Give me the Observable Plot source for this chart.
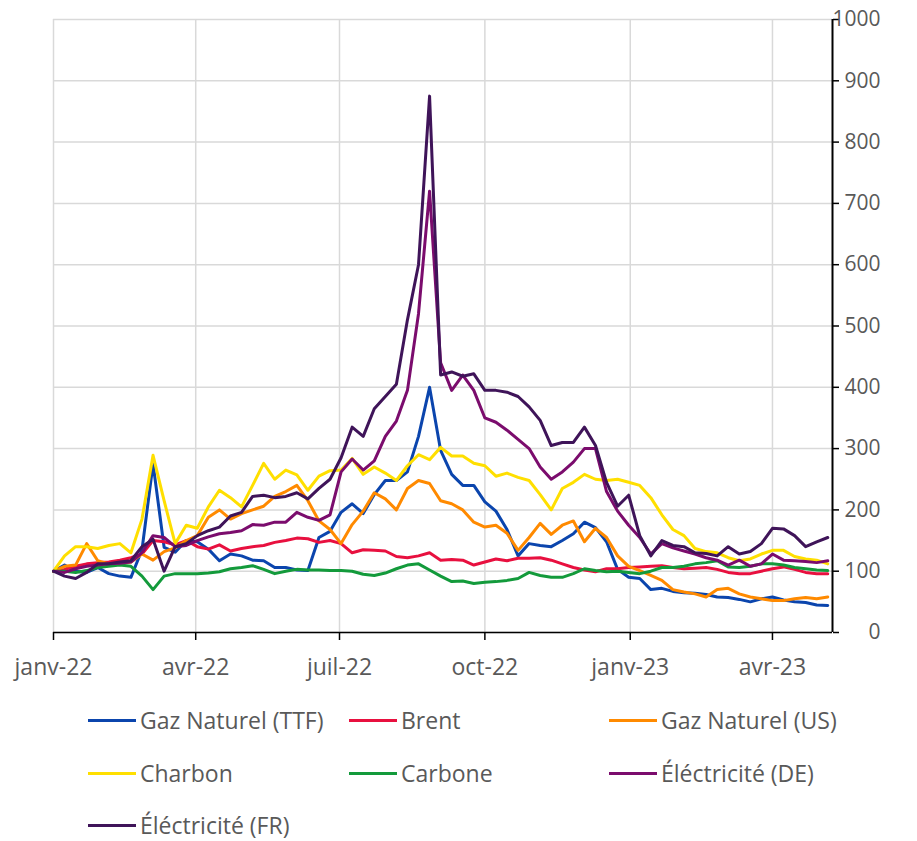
<!DOCTYPE html>
<html>
<head>
<meta charset="utf-8">
<script src="https://cdn.jsdelivr.net/npm/d3@7"></script>
<script src="https://cdn.jsdelivr.net/npm/@observablehq/plot@0.6"></script>
<style>
  html, body { margin: 0; padding: 0; background: #fff; }
  #wrap { position: relative; width: 917px; height: 841px; font-family: "Open Sans", sans-serif; overflow: hidden; }
  #legend { position: absolute; left: 0; top: 690px; width: 917px; }
  .item { position: absolute; display: flex; align-items: center; height: 26px; line-height: 26px; color: #595959; font-size: 23px; white-space: nowrap; }
  .sw { width: 48px; height: 3px; margin-right: 4px; }
</style>
</head>
<body>
<div id="wrap">
  <div id="chart"></div>
  <div id="legend"></div>
</div>
<script>
const dates = ["2022-01-01","2022-01-08","2022-01-15","2022-01-22","2022-01-29","2022-02-05","2022-02-12","2022-02-19","2022-02-26","2022-03-05","2022-03-12","2022-03-19","2022-03-26","2022-04-02","2022-04-09","2022-04-16","2022-04-23","2022-04-30","2022-05-07","2022-05-14","2022-05-21","2022-05-28","2022-06-04","2022-06-11","2022-06-18","2022-06-25","2022-07-02","2022-07-09","2022-07-16","2022-07-23","2022-07-30","2022-08-06","2022-08-13","2022-08-20","2022-08-27","2022-09-03","2022-09-10","2022-09-17","2022-09-24","2022-10-01","2022-10-08","2022-10-15","2022-10-22","2022-10-29","2022-11-05","2022-11-12","2022-11-19","2022-11-26","2022-12-03","2022-12-10","2022-12-17","2022-12-24","2022-12-31","2023-01-07","2023-01-14","2023-01-21","2023-01-28","2023-02-04","2023-02-11","2023-02-18","2023-02-25","2023-03-04","2023-03-11","2023-03-18","2023-03-25","2023-04-01","2023-04-08","2023-04-15","2023-04-22","2023-04-29","2023-05-06"];

const gazTTF = [100,110,100,98,106,96,92,90,135,275,139,131,150,148,136,117,128,125,118,117,106,106,102,101,155,165,196,210,194,225,248,248,262,320,400,297,258,240,240,213,198,168,125,145,142,140,150,161,180,171,148,103,90,88,70,72,67,65,64,62,58,57,54,50,55,58,53,50,49,45,44];
const brent = [100,103,108,112,114,115,118,122,128,150,148,143,150,140,136,143,133,137,140,142,147,150,154,153,147,150,145,130,135,134,133,124,122,125,130,118,119,118,110,115,120,117,121,121,122,118,112,106,102,99,104,104,106,107,108,109,106,104,105,106,103,98,96,96,100,104,107,103,98,96,96];
const gazUS = [100,108,110,145,117,112,112,115,128,118,132,138,150,158,188,200,185,194,200,206,222,230,240,215,182,168,145,176,198,228,218,200,235,248,243,215,210,200,180,172,175,162,134,155,178,160,175,182,148,170,155,125,108,101,93,85,70,66,63,58,70,72,63,58,55,52,52,55,57,55,58];
const charbon = [100,125,140,140,137,142,145,130,185,289,215,145,175,170,205,232,220,205,240,276,250,265,257,232,255,264,265,284,258,270,260,248,272,290,282,302,288,288,276,272,255,260,253,248,225,200,235,245,258,250,248,250,245,240,220,192,168,158,137,132,130,122,117,120,128,134,134,124,120,118,112];
const carbone = [100,100,98,101,106,108,110,108,92,70,92,96,96,96,97,99,104,106,109,103,96,100,103,102,102,101,101,100,95,93,97,104,110,112,102,92,83,84,80,82,83,85,88,98,93,90,90,96,104,101,99,100,98,96,100,106,106,108,112,114,117,107,106,108,112,112,110,106,104,102,101];
const elecDE = [100,98,104,108,110,112,113,115,130,158,155,140,142,150,156,161,163,166,176,175,180,180,196,188,183,192,262,283,265,280,320,345,395,520,720,440,395,420,395,350,343,330,315,300,270,250,262,278,300,300,230,198,175,155,128,145,138,133,128,122,118,110,118,108,112,128,118,117,116,114,117];
const elecFR = [100,92,88,98,112,112,115,117,140,152,100,140,145,158,166,172,190,196,222,224,220,222,228,218,235,250,285,335,320,365,385,405,510,600,875,420,425,418,422,395,395,392,385,368,346,305,310,310,335,305,245,206,224,158,125,150,142,140,130,129,125,140,128,132,145,170,169,158,140,148,155];

const seriesNames = ["Gaz Naturel (TTF)","Brent","Gaz Naturel (US)","Charbon","Carbone","Éléctricité (DE)","Éléctricité (FR)"];
const seriesColors = ["#0b45ad","#e8103f","#ff8a00","#ffdf00","#139a3b","#7b0c6d","#3f1459"];
const seriesValues = [gazTTF, brent, gazUS, charbon, carbone, elecDE, elecFR];

const xTickDates = ["2022-01-01","2022-04-01","2022-07-01","2022-10-01","2023-01-01","2023-04-01"];
const xTickLabels = ["janv-22","avr-22","juil-22","oct-22","janv-23","avr-23"];
const yTicks = [0,100,200,300,400,500,600,700,800,900,1000];

const xStart = new Date("2022-01-01");
const xEnd = new Date("2023-05-09");

const rows = [];
seriesNames.forEach((name, s) => {
  dates.forEach((d, i) => rows.push({date: new Date(d), value: seriesValues[s][i], name}));
});
const xTicks = xTickDates.map(d => new Date(d));
const labelOf = new Map(xTicks.map((d, i) => [+d, xTickLabels[i]]));

const chart = Plot.plot({
  width: 917,
  height: 690,
  marginTop: 19,
  marginBottom: 58,
  marginLeft: 53,
  marginRight: 85,
  style: {fontFamily: "'Open Sans', sans-serif", fontSize: "21px", background: "#fff", overflow: "visible"},
  x: {type: "utc", domain: [xStart, xEnd]},
  y: {domain: [0, 1000]},
  color: {domain: seriesNames, range: seriesColors},
  marks: [
    Plot.gridY(yTicks, {stroke: "#d9d9d9", strokeOpacity: 1, strokeWidth: 1.5}),
    Plot.gridX(xTicks, {stroke: "#d9d9d9", strokeOpacity: 1, strokeWidth: 1.5}),
    Plot.lineY(rows, {x: "date", y: "value", z: "name", stroke: "name", strokeWidth: 3, strokeLinejoin: "round"}),
    Plot.ruleY([0], {stroke: "#000", strokeWidth: 1.5}),
    Plot.ruleX([xEnd], {stroke: "#000", strokeWidth: 2}),
    Plot.axisX(xTicks, {tickFormat: d => labelOf.get(+d), tickSize: 8, tickPadding: 18, stroke: "#000", strokeWidth: 1.5, fill: "#595959", fontSize: 23, label: null}),
    Plot.axisY(yTicks, {anchor: "right", tickSize: 6, tickFormat: () => "", stroke: "#000", strokeWidth: 1.5, label: null}),
    Plot.text(yTicks, {y: d => d, frameAnchor: "right", text: d => String(d), textAnchor: "end", dx: 48, fill: "#595959", fontSize: 21})
  ]
});
document.getElementById("chart").appendChild(chart);

// legend
const legend = document.getElementById("legend");
const colLeft = [88, 349, 609];
const rowTop = [17, 70, 122];
seriesNames.forEach((name, i) => {
  const div = document.createElement("div");
  div.className = "item";
  div.style.left = colLeft[i % 3] + "px";
  div.style.top = rowTop[Math.floor(i / 3)] + "px";
  const sw = document.createElement("span");
  sw.className = "sw";
  sw.style.background = seriesColors[i];
  const tx = document.createElement("span");
  tx.textContent = name;
  div.appendChild(sw);
  div.appendChild(tx);
  legend.appendChild(div);
});
</script>
</body>
</html>
